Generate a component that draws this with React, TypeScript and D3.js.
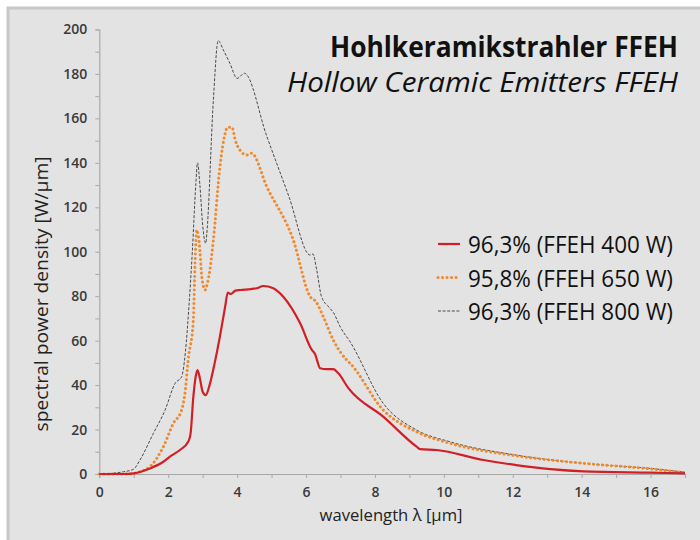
import { useEffect, useRef } from 'react'
import * as d3 from 'd3'

// [wavelength µm, spectral power density W/µm]
const ffeh400: [number, number][] = [
  [0, 0], [0.7, 0], [1.0, 0.3], [1.47, 2.5], [1.86, 5.5], [2.05, 7.8], [2.34, 10.8], [2.58, 14.5],
  [2.65, 18.3], [2.73, 34.8], [2.8, 44], [2.85, 46.8], [2.92, 43], [3.0, 37], [3.09, 35.5], [3.2, 40],
  [3.35, 50], [3.5, 61.8], [3.65, 75], [3.73, 81.6], [3.82, 81], [3.95, 82.5], [4.1, 82.8], [4.4, 83.2],
  [4.57, 83.6], [4.76, 84.6], [5.05, 83.6], [5.34, 79.8], [5.83, 67.8], [6.17, 55.8], [6.26, 54],
  [6.41, 47.6], [6.6, 47.2], [6.79, 47.2], [6.94, 45.3], [7.23, 38.6], [8.24, 25.8], [9.21, 12.3],
  [9.31, 11.2], [9.79, 10.8], [11.15, 6.3], [12.1, 4], [13.1, 2.2], [14.05, 1.2], [16, 0.6], [17, 0.3],
]
const ffeh650: [number, number][] = [
  [0, 0], [0.9, 0], [1.18, 1], [1.47, 3.3], [1.86, 12.3], [2.15, 22.8], [2.39, 28.8], [2.5, 38],
  [2.58, 51.3], [2.73, 69.3], [2.78, 95], [2.83, 109.8], [2.9, 104], [2.98, 88], [3.07, 82.8],
  [3.14, 86], [3.21, 91.8], [3.31, 105], [3.5, 138], [3.65, 153], [3.72, 156], [3.85, 156],
  [3.95, 150], [4.08, 145.8], [4.28, 143.5], [4.42, 144.3], [4.86, 129.3], [5.63, 105.3],
  [6.12, 79.8], [6.29, 77.5], [6.5, 70.8], [6.79, 60.3], [7.18, 51.3], [7.28, 49.8], [8.24, 28.8],
  [9.21, 19], [10.18, 13.8], [12.1, 8.2], [14.05, 4.8], [16, 2.3], [17, 0.6],
]
const ffeh800: [number, number][] = [
  [0, 0], [0.7, 1], [0.99, 2.1], [1.18, 6.3], [1.57, 18.3], [1.91, 28.8], [2.2, 40.8], [2.39, 43.8],
  [2.5, 55], [2.6, 75], [2.7, 100], [2.8, 130], [2.85, 140], [2.92, 130], [3.0, 112], [3.09, 103.8],
  [3.12, 108], [3.31, 168], [3.45, 195], [3.6, 190.8], [3.79, 184.8], [4.0, 178], [4.21, 180.3],
  [4.86, 152], [5.5, 125], [6.12, 98.5], [6.2, 99], [6.31, 91.8], [6.45, 79.8], [6.7, 74.5],
  [6.8, 72.5], [7.0, 66], [7.28, 59.5], [8.24, 31.8], [9.21, 19.8], [10.18, 14.5], [12.1, 8.5],
  [14.05, 4.8], [16, 2.5], [17, 0.8],
]

const legendLabels = ['96,3% (FFEH 400 W)', '95,8% (FFEH 650 W)', '96,3% (FFEH 800 W)']
const titleLines = ['Hohlkeramikstrahler FFEH', 'Hollow Ceramic Emitters FFEH']
const yTicks = [0, 20, 40, 60, 80, 100, 120, 140, 160, 180, 200]
const xTicks = [0, 2, 4, 6, 8, 10, 12, 14, 16]

const FONT = "'Open Sans', sans-serif"

export default function App() {
  const svgRef = useRef<SVGSVGElement>(null)

  useEffect(() => {
    if (!svgRef.current) return
    const svg = d3.select(svgRef.current)
    svg.selectAll('*').remove()

    // panel
    svg.append('rect').attr('x', 0).attr('y', 0).attr('width', 700).attr('height', 540).attr('fill', '#fff')
    svg.append('rect').attr('x', 8).attr('y', 8).attr('width', 700).attr('height', 540)
      .attr('fill', '#e3e3e3').attr('stroke', '#c8c8c8').attr('stroke-width', 3)

    const x = d3.scaleLinear().domain([0, 17]).range([99.3, 685])
    const y = d3.scaleLinear().domain([0, 200]).range([474, 29.5])

    // y axis
    const yAx = svg.append('g').attr('transform', `translate(${x(0)},0)`)
      .call(d3.axisLeft(y).tickValues(d3.range(0, 201, 10)).tickSize(4).tickPadding(8)
        .tickFormat(d => (yTicks.includes(+d) ? String(d) : '')))
    // x axis
    const xAx = svg.append('g').attr('transform', `translate(0,${y(0)})`)
      .call(d3.axisBottom(x).tickValues(d3.range(0, 18, 1)).tickSize(4).tickPadding(9)
        .tickFormat(d => (xTicks.includes(+d) ? String(d) : '')))
    ;[yAx, xAx].forEach(ax => {
      ax.select('.domain').attr('stroke', '#a8a8a8').attr('stroke-width', 1.2)
      ax.selectAll('.tick line').attr('stroke', '#a8a8a8')
      ax.selectAll('text').attr('fill', '#3a3a3a').attr('font-size', 14)
        .attr('font-weight', 600).attr('font-family', FONT)
    })

    const line = d3.line<[number, number]>().x(d => x(d[0])).y(d => y(d[1])).curve(d3.curveMonotoneX)

    const styles = [
      { data: ffeh400, color: '#d21f26', width: 2.2, dash: null as string | null, cap: 'butt' },
      { data: ffeh650, color: '#ee8a30', width: 3, dash: '0.1,4.4', cap: 'round' },
      { data: ffeh800, color: '#4a4a4a', width: 1, dash: '3,1.6', cap: 'butt' },
    ]
    // draw 800 first, then 650, then 400 on top
    ;[2, 1, 0].forEach(i => {
      const s = styles[i]
      svg.append('path').datum(s.data)
        .attr('d', line)
        .attr('fill', 'none').attr('stroke', s.color).attr('stroke-width', s.width)
        .attr('stroke-dasharray', s.dash).attr('stroke-linecap', s.cap).attr('stroke-linejoin', 'round')
    })

    // title
    svg.append('text').attr('x', 678).attr('y', 57).attr('text-anchor', 'end')
      .attr('font-family', FONT).attr('font-size', 28).attr('font-weight', 700).attr('fill', '#111')
      .attr('textLength', 348).attr('lengthAdjust', 'spacingAndGlyphs')
      .text(titleLines[0])
    svg.append('text').attr('x', 678).attr('y', 92).attr('text-anchor', 'end')
      .attr('font-family', FONT).attr('font-size', 28).attr('font-style', 'italic').attr('fill', '#111')
      .attr('textLength', 391).attr('lengthAdjust', 'spacingAndGlyphs')
      .text(titleLines[1])

    // legend
    legendLabels.forEach((lab, i) => {
      const cy = 244 + i * 33.5
      const s = styles[i]
      svg.append('line').attr('x1', 438).attr('x2', 460).attr('y1', cy).attr('y2', cy)
        .attr('stroke', s.color).attr('stroke-width', s.width)
        .attr('stroke-dasharray', s.dash).attr('stroke-linecap', s.cap)
      svg.append('text').attr('x', 468).attr('y', cy + 9)
        .attr('font-family', FONT).attr('font-size', 24).attr('fill', '#111')
        .attr('textLength', 205).attr('lengthAdjust', 'spacingAndGlyphs')
        .text(lab)
    })

    // axis labels
    svg.append('text').attr('transform', `translate(48,294) rotate(-90)`)
      .attr('text-anchor', 'middle').attr('font-family', FONT).attr('font-size', 18).attr('fill', '#222')
      .attr('textLength', 275).attr('lengthAdjust', 'spacingAndGlyphs')
      .text('spectral power density [W/µm]')
    svg.append('text').attr('x', 391).attr('y', 521).attr('text-anchor', 'middle')
      .attr('font-family', FONT).attr('font-size', 17).attr('fill', '#222')
      .attr('textLength', 143).attr('lengthAdjust', 'spacingAndGlyphs')
      .text('wavelength λ [µm]')
  }, [])

  return (
    <svg ref={svgRef} width={700} height={540}
      style={{ position: 'absolute', left: 0, top: 0, display: 'block' }} />
  )
}
